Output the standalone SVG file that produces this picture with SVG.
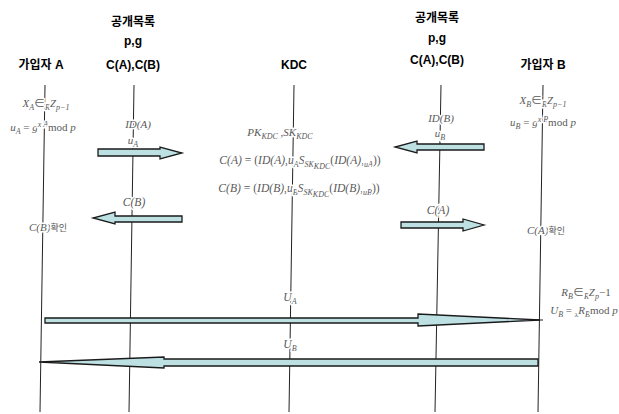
<svg xmlns="http://www.w3.org/2000/svg" width="619" height="414" viewBox="0 0 619 414">
<style>
.hdr{font-family:"Liberation Sans","Noto Sans CJK KR",Arial,sans-serif;font-weight:bold;font-size:12px;fill:#000;text-anchor:middle}
.life{stroke:#222;stroke-width:1;fill:none}
.arr{fill:#bde0e3;stroke:#1a1a1a;stroke-width:1.3;stroke-linejoin:miter}
.m{font-family:"Liberation Serif","Noto Sans CJK KR",serif;font-style:italic;font-size:11px;fill:#5a5a5a;text-anchor:middle;stroke:#fff;stroke-width:3;paint-order:stroke;stroke-linejoin:round}
.b{font-size:11.6px}
.n{font-style:normal}
.k{font-family:"Noto Sans CJK KR",sans-serif;font-style:normal;font-size:9px}
.s{font-size:8px}
</style>
<rect width="619" height="414" fill="#fff"/>
<g id="lifelines">
<line class="life" x1="45" y1="85" x2="40" y2="412"/>
<line class="life" x1="134" y1="85" x2="129" y2="412"/>
<line class="life" x1="294" y1="85" x2="289" y2="412"/>
<line class="life" x1="441" y1="85" x2="435" y2="412"/>
<line class="life" x1="543" y1="85" x2="538" y2="412"/>
</g>
<g id="node-A">
<text class="hdr" x="41" y="69">가입자 A</text>
<text class="m" x="46" y="107">X<tspan class="s" dy="3">A</tspan><tspan class="n" dy="-3">∈</tspan><tspan class="s" dy="3">R</tspan><tspan dy="-3">Z</tspan><tspan class="s" dy="3">p−1</tspan></text>
<text class="m" x="43" y="131">u<tspan class="s" dy="3">A</tspan><tspan class="n" dy="-3"> = </tspan>g<tspan class="s" dy="-4">x A</tspan><tspan class="n" dy="4">mod </tspan>p</text>
<text class="m" x="48" y="231">C(B)<tspan class="k">확인</tspan></text>
</g>
<g id="node-pub1">
<text class="hdr" x="133" y="26">공개목록</text>
<text class="hdr" x="133" y="45">p,g</text>
<text class="hdr" x="133" y="69">C(A),C(B)</text>
<text class="m" x="138" y="128">ID(A)</text>
<text class="m" x="133" y="144">u<tspan class="s" dy="3">A</tspan></text>
<text class="m b" x="134" y="206">C(B)</text>
</g>
<g id="node-KDC">
<text class="hdr" x="294" y="69">KDC</text>
<text class="m" x="280" y="136">PK<tspan class="s" dy="3">KDC</tspan><tspan dy="-3"> ,SK</tspan><tspan class="s" dy="3">KDC</tspan></text>
<text class="m b" x="300" y="164">C(A)<tspan class="n"> = (</tspan>ID(A)<tspan class="n">,</tspan>u<tspan class="s" dy="3">A</tspan><tspan dy="-3">S</tspan><tspan class="s" dy="3">SK</tspan><tspan class="s" dy="2" font-size="6">KDC</tspan><tspan class="n" dy="-5">(</tspan>ID(A)<tspan class="n">,</tspan><tspan class="s" dy="3">uA</tspan><tspan class="n" dy="-3">))</tspan></text>
<text class="m b" x="299" y="192">C(B)<tspan class="n"> = (</tspan>ID(B)<tspan class="n">,</tspan>u<tspan class="s" dy="3">B</tspan><tspan dy="-3">S</tspan><tspan class="s" dy="3">SK</tspan><tspan class="s" dy="2" font-size="6">KDC</tspan><tspan class="n" dy="-5">(</tspan>ID(B)<tspan class="n">,</tspan><tspan class="s" dy="3">uB</tspan><tspan class="n" dy="-3">))</tspan></text>
<text class="m b" x="290" y="301">U<tspan class="s" dy="3">A</tspan></text>
<text class="m b" x="290" y="348">U<tspan class="s" dy="3">B</tspan></text>
</g>
<g id="node-pub2">
<text class="hdr" x="437" y="22">공개목록</text>
<text class="hdr" x="437" y="42">p,g</text>
<text class="hdr" x="437" y="64">C(A),C(B)</text>
<text class="m" x="441" y="122">ID(B)</text>
<text class="m" x="440" y="137">u<tspan class="s" dy="3">B</tspan></text>
<text class="m b" x="438" y="214">C(A)</text>
</g>
<g id="node-B">
<text class="hdr" x="543" y="69">가입자 B</text>
<text class="m" x="543" y="104">X<tspan class="s" dy="3">B</tspan><tspan class="n" dy="-3">∈</tspan><tspan class="s" dy="3">R</tspan><tspan dy="-3">Z</tspan><tspan class="s" dy="3">p−1</tspan></text>
<text class="m" x="543" y="126">u<tspan class="s" dy="3">B</tspan><tspan class="n" dy="-3"> = </tspan>g<tspan class="s" dy="-4">x B</tspan><tspan class="n" dy="4">mod </tspan>p</text>
<text class="m" x="546" y="234">C(A)<tspan class="k">확인</tspan></text>
<text class="m" x="586" y="296">R<tspan class="s" dy="3">B</tspan><tspan class="n" dy="-3">∈</tspan><tspan class="s" dy="3">R</tspan><tspan dy="-3">Z</tspan><tspan class="s" dy="3">p</tspan><tspan class="n" dy="-3">−1</tspan></text>
<text class="m" x="584" y="314">U<tspan class="s" dy="3">B</tspan><tspan class="n" dy="-3"> = </tspan><tspan class="s" dy="3">x</tspan><tspan dy="-3">R</tspan><tspan class="s" dy="3">B</tspan><tspan class="n" dy="-3">mod </tspan>p</text>
</g>
<g id="connectors">
<polygon class="arr" points="98,149 160,149 160,147 182,153 160,159 160,156 98,156"/>
<polygon class="arr" points="182,216 115,216 115,212 93,218 115,224 115,222 182,222"/>
<polygon class="arr" points="484,144 417,144 417,141 395,147 417,153 417,150 484,150"/>
<polygon class="arr" points="401,222 463,222 463,219 484,225 463,231 463,228 401,228"/>
<polygon class="arr" points="45,318 418,318 418,314 540,320 418,326 418,323 45,323"/>
<line x1="530" y1="320" x2="543" y2="320" stroke="#1a1a1a" stroke-width="1"/>
<polygon class="arr" points="538,359 164,359 164,357 39,362 164,368 164,366 538,366"/>
</g>
</svg>
